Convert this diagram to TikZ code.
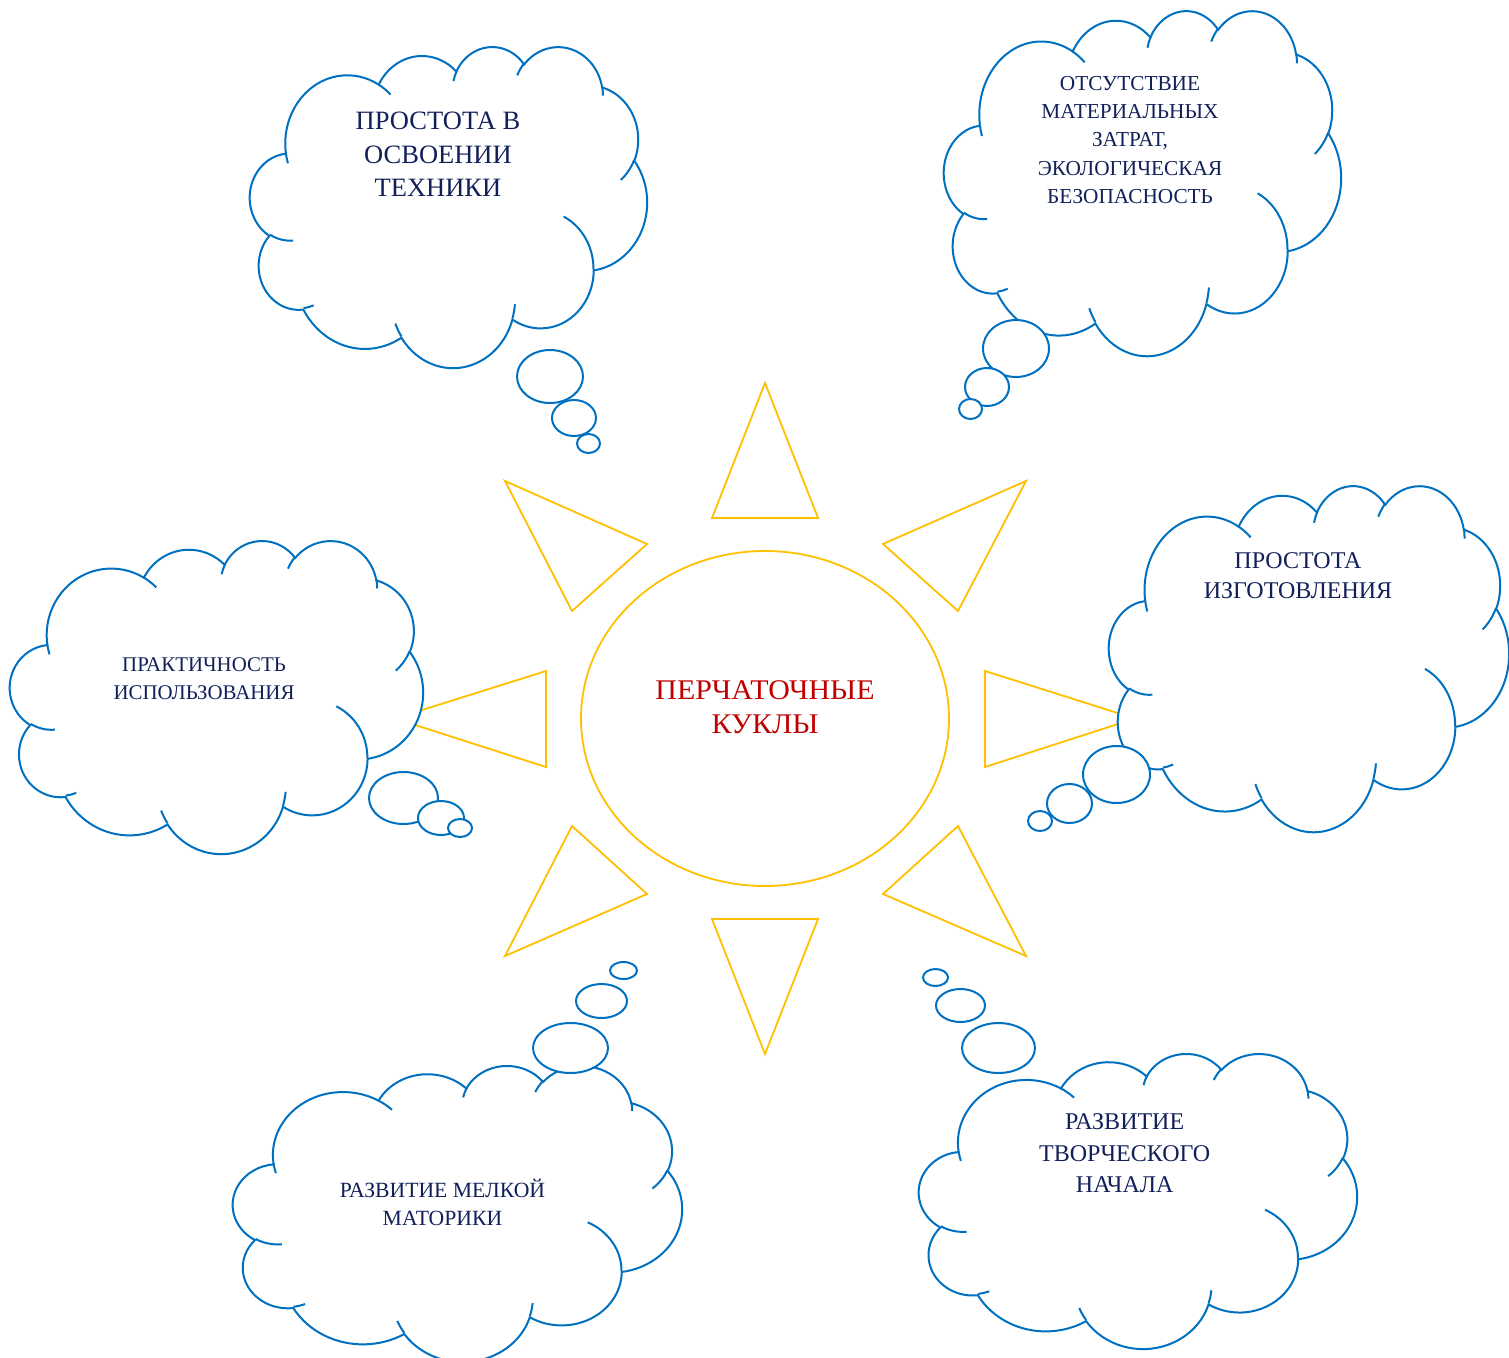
\documentclass[tikz,border=0pt]{standalone}
\usepackage{fontspec}
\setmainfont{Liberation Serif}
\usetikzlibrary{shapes.geometric}
\definecolor{cloudblue}{RGB}{0,112,192}
\definecolor{sungold}{RGB}{255,192,0}
\definecolor{navytext}{RGB}{18,32,90}
\definecolor{redtext}{RGB}{192,0,0}
% one arc of the cloud outline: x radius, y radius, start angle, sweep (visual angles)
\newcommand\carc[4]{arc[start angle={vtp(#3,#1,#2)}, end angle={vtp(#3+#4,#1,#2)}, x radius=#1, y radius=#2]}
\newcommand\cloudbody{(39.00,143.70)
 \carc{67.53}{91.90}{-190.4875}{123.7805}
 \carc{53.33}{72.67}{-144.1024}{89.9452}
 \carc{43.65}{59.45}{-145.8079}{99.7230}
 \carc{48.57}{65.95}{-130.9861}{117.2417}
 \carc{53.33}{72.73}{-78.7089}{109.0269}
 \carc{67.75}{92.20}{-46.2673}{130.2690}
 \carc{57.85}{78.67}{0.6250}{114.0333}
 \carc{67.52}{92.15}{22.4516}{115.1726}
 \carc{77.20}{105.43}{66.2426}{75.7110}
 \carc{43.60}{59.18}{-274.9421}{146.7356}
 \carc{43.45}{59.45}{-246.8285}{152.5189}
 -- cycle}
\newcommand\cloudinner{(46.93,261.77) \carc{43.45}{59.45}{86.7420}{26.4295}
 (69.28,348.99) \carc{43.60}{59.18}{73.6105}{11.4475}
 (164.78,390.90) \carc{67.52}{92.15}{137.6242}{14.0811}
 (288.27,347.51) \carc{67.52}{92.15}{6.4533}{15.9984}
 (341.29,229.54) \carc{57.85}{78.67}{-70.2924}{70.9174}
 (417.98,153.54) \carc{53.33}{72.73}{30.3180}{27.7515}
 (383.24,54.26) \carc{48.57}{65.95}{-13.7443}{14.8589}
 (290.78,39.52) \carc{48.57}{65.95}{-149.1815}{18.1954}
 (221.41,47.20) \carc{43.65}{59.45}{-163.4943}{17.6864}
 (140.00,51.92) \carc{67.53}{91.90}{-66.7070}{12.3194}
 (41.27,157.89) \carc{67.53}{91.90}{157.6544}{11.8582}}
% cloud placed in box: left, top, width, height
\newcommand\drawcloud[4]{%
 \begin{scope}[shift={(#1,#2)}, xscale=#3/432, yscale=#4/432]
  \path[cloudline, fill=white] \cloudbody;
  \path[cloudline] \cloudinner;
 \end{scope}}
\begin{document}
\begin{tikzpicture}[x=1pt, y=-1pt,
  declare function={vtp(\vA,\vB,\vC)=\vA+(atan2(\vB*sin(\vA),\vC*cos(\vA))-\vA)-360*round((atan2(\vB*sin(\vA),\vC*cos(\vA))-\vA)/360);},
  cloudline/.style={draw=cloudblue, line width=2pt},
  bubble/.style={draw=cloudblue, line width=2pt, fill=white},
  ray/.style={draw=sungold, line width=1.8pt},
  txt/.style={text=navytext, align=center, inner sep=0pt}]
\useasboundingbox (0,0) rectangle (1509,1357);
\fill[white] (0,0) rectangle (1509,1357);

% sun
\node[ellipse, draw=sungold, line width=1.8pt, minimum width=368pt, minimum height=335pt, inner sep=0pt] (sun) at (765,718.5) {};
\path[ray] (765,383) -- (818,518) -- (712,518) -- cycle;
\path[ray] (765,1054) -- (818,919) -- (712,919) -- cycle;
\path[ray] (395,718.5) -- (546,671) -- (546,767) -- cycle;
\path[ray] (1135,718.5) -- (985,671) -- (985,767) -- cycle;
\path[ray] (505,481) -- (647,544) -- (572,611) -- cycle;
\path[ray] (1026,481) -- (883,544) -- (958,611) -- cycle;
\path[ray] (505,956) -- (647,894) -- (572,826) -- cycle;
\path[ray] (1026,956) -- (883,894) -- (958,826) -- cycle;

% clouds
\drawcloud{250}{46}{397}{321}
\drawcloud{944}{10}{397}{345}
\drawcloud{10}{540}{413}{313}
\drawcloud{1109}{485}{400}{346}
\drawcloud{233}{1065}{449}{296}
\drawcloud{919}{1053}{438}{295}

% bubbles
\path[bubble] (550,376.5) ellipse [x radius=33, y radius=26.5];
\path[bubble] (574,418) ellipse [x radius=22, y radius=18];
\path[bubble] (588.5,443.5) ellipse [x radius=11.5, y radius=9.5];

\path[bubble] (1016,348.5) ellipse [x radius=33, y radius=28.5];
\path[bubble] (987,387) ellipse [x radius=22, y radius=19];
\path[bubble] (970.5,409) ellipse [x radius=11.5, y radius=10];

\path[bubble] (403.5,798) ellipse [x radius=34.5, y radius=26];
\path[bubble] (441,818) ellipse [x radius=23, y radius=17];
\path[bubble] (460,828) ellipse [x radius=12, y radius=9];

\path[bubble] (1116.5,774.5) ellipse [x radius=33.5, y radius=28.5];
\path[bubble] (1069.5,803.5) ellipse [x radius=22.5, y radius=19.5];
\path[bubble] (1040,821) ellipse [x radius=12, y radius=10];

\path[bubble] (570.5,1048) ellipse [x radius=37.5, y radius=25];
\path[bubble] (601.5,1001) ellipse [x radius=25.5, y radius=17];
\path[bubble] (623.5,970.5) ellipse [x radius=13.5, y radius=8.5];

\path[bubble] (998.5,1048) ellipse [x radius=36.5, y radius=25];
\path[bubble] (960.5,1005.5) ellipse [x radius=24.5, y radius=16.5];
\path[bubble] (935.5,977.5) ellipse [x radius=12.5, y radius=8.5];

% texts
\node[txt, xscale=1.05, transform shape, font=\fontsize{28.5}{34.3}\selectfont, text=redtext] (center) at (765,707.5) {ПЕРЧАТОЧНЫЕ\\КУКЛЫ};
\node[txt, font=\fontsize{26.5}{33.3}\selectfont] (t1) at (438,154.5) {ПРОСТОТА В\\ОСВОЕНИИ\\ТЕХНИКИ};
\node[txt, font=\fontsize{21.3}{28.35}\selectfont] (t2) at (1130,140) {ОТСУТСТВИЕ\\МАТЕРИАЛЬНЫХ\\ЗАТРАТ,\\ЭКОЛОГИЧЕСКАЯ\\БЕЗОПАСНОСТЬ};
\node[txt, font=\fontsize{20.9}{27.5}\selectfont] (t3) at (204,678.5) {ПРАКТИЧНОСТЬ\\ИСПОЛЬЗОВАНИЯ};
\node[txt, font=\fontsize{24}{30}\selectfont] (t4) at (1298,576) {ПРОСТОТА\\ИЗГОТОВЛЕНИЯ};
\node[txt, font=\fontsize{21.7}{28}\selectfont] (t5) at (442.5,1202.5) {РАЗВИТИЕ МЕЛКОЙ\\МАТОРИКИ};
\node[txt, font=\fontsize{24}{31.6}\selectfont] (t6) at (1124.7,1153.5) {РАЗВИТИЕ\\ТВОРЧЕСКОГО\\НАЧАЛА};
\end{tikzpicture}
\end{document}
